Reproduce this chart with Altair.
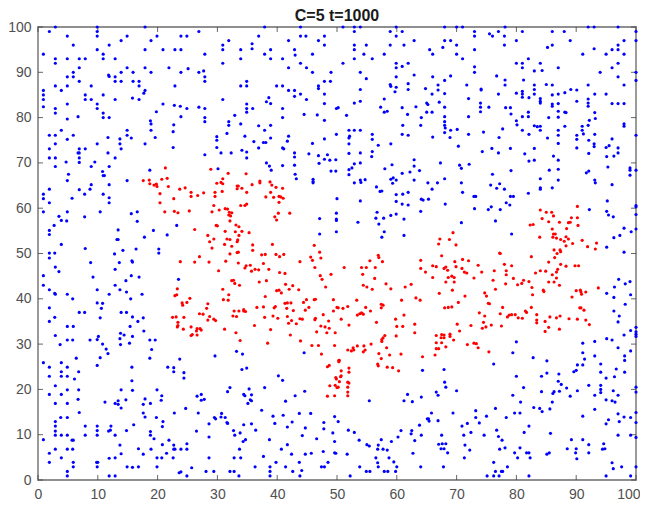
import altair as alt
import pandas as pd

title_text = "C=5 t=1000"
tick_values = [0, 10, 20, 30, 40, 50, 60, 70, 80, 90, 100]

blue_upper_left = [
(2.9,100),(9.9,100),(9.9,99),(9.9,98),(17.9,100),(1.9,99),(4.9,98),(14.9,98),(19.9,98),(23.9,98),(24.9,98),(26.9,99),
(13.9,97),(18.9,97),(5.9,96),(11.9,96),(9.9,95),(17.9,95),(20.9,95),(22.9,95),(23.9,95),(30.9,96),(30.9,95),(31.9,97),
(0.9,94),(10.9,94),(27.9,94),(2.9,93),(2.9,92),(4.9,93),(6.9,93),(7.9,93),(10.9,93),(12.9,93),(33.9,95),(33.9,93),(30.9,92),
(35.8,96.3),(35.8,95.2),(37.9,94),(38.9,95),(38.9,93),(36.9,98),(37.9,100),(41.9,97),(40.9,93),(42.9,95),(43,93.8),(43.9,100),(43.9,98),
(44.8,98),(46.9,97),(47.9,98),(47.9,96),(45.9,94),(43.9,92),(41.9,91),(44.9,91),(45.9,90),(49,90),(6.9,91),(5.9,90),(4.9,89),(5.9,89),
(6.9,88),(2.9,87),(4.9,87),(3.9,86),(8.9,87),(0.9,86),(0.9,85),(0.9,84),(0.9,82.4),(7.9,85),(7.9,84),(8.9,84),(10.9,85),(12.9,84),
(11.8,89.4),(11.9,89.1),(12.9,89),(12.9,88),(13.9,90),(13.9,88),(14.9,91),(15.9,90),(15.9,88),(16.9,88),(16.9,87),(17.9,91),(18.9,90),(17.9,86),(17.7,85.4),
(15.8,84.3),(16.9,84),(21.9,91),(22.9,87),(23.9,90),(25.1,90.8),(26.9,90),(27.7,90.3),(27.9,89),(27.9,88),(33.9,87),(34.9,88),(34.9,87),
(39.9,87),(40.9,87),(41.9,86),(42.9,86),(42.9,84.7),(43.9,85.2),(44.9,84),(46.9,87),(46.9,86.4),(47.9,88),(48.9,88),(47.9,85.2),(47.9,83.1),
(30.9,84),(38.6,84.4),(38.2,83.5),(38.9,83.1),(4.9,83),(9.9,83),(9.9,82),(2.9,82),(2.9,81),(10.9,81),(10.9,80),(11.9,80),(6.7,80.2),(4.9,79.7),
(20.9,83),(22.8,82.7),(23.8,82.5),(24.9,82),(26.9,82.3),(27.9,82),(19.8,81.3),(23.9,80.2),(27.9,80),(27.9,79.1),(34.9,83),(34.9,82),(34.9,81.2),(35.9,82),(32.9,80.5),
(40.9,82),(40.9,80),(49.9,82),(44.5,80.7),(46.7,80.6),(47.9,79.4),(18.8,79.3),(18.9,78.6),(22.7,78.4),(31.9,79.1),(31.9,78.3),(33.9,78.6),(36.9,78.2),(38.9,78.3),(37.9,77.2),
(3.9,77.2),(14.9,77.2),(18.9,77.2),(22.6,76.9),(1.9,76.1),(2.9,76.1),(5.9,76.1),(14.9,76.1),(49.9,76.3),(4.9,75.2),(11.7,75.6),(13.7,75.3),(15.6,75.5),(19.6,75.6),
(31.6,76.5),(29.9,75.8),(29.9,75),(34.6,75.9),(38.9,75.5),(41.9,75.9),(47.9,75.3),(2.9,74.2),(9.9,74.2),(13.7,74.2),(17.9,74.2),(36.1,74.7),(37.7,74.5),(38.1,74.5),(41.7,74.8),(45.9,74.3),
(1.9,73.1),(6.9,73.1),(7.9,73.1),(13.9,73.1),(22.6,73.4),(29.9,73.4),(36.9,73.3),(40.9,73.3),(41.1,73.1),(6.7,72.2),(6.9,72.2),(11.7,72.2),(30.6,72.2),(32.3,72.2),(34.1,72.8),(34.9,72.4),(42.9,72.2),
(6.9,71.1),(1.9,71.1),(2.9,71.1),(12.9,71.1),(27.9,71.8),(34.9,71.1),(42.9,71.3),(45.3,72),(46.9,71.6),(48.4,71.8),(47.9,70.8),(48.8,70.6),(49.8,70.7),
(4.7,70.2),(6.9,70.1),(9.5,70.2),(47,69.9),(38.2,70),(2.9,69.2),(8.9,69.2),(11.9,69.2),(38.7,69.3),(40.9,69.4),(42.9,69.5),(10.8,68.1),(18.7,68.4),(30.1,68.7),(39,68.4),(49,68.2),(49.8,68.2),
(5.1,67.5),(10.9,67.2),(11.1,67.2),(43,67.5),(43.2,66.5),(4.9,66.1),(14.9,66.1),(46,66.4),(46,65.9),(46,65.6),(8.9,65.2),(11.9,65.2),(8.7,64.2),(1.9,64.2),(6.9,64.1),
(0.9,63.1),(7.8,63.1),(10.9,63.1),(0.9,62.1),(5.7,62.2),(11.9,62.3),(11.9,61.2),(1.9,61.2),(50,62.1),(0.9,59.2),(4.9,59.2),(10.4,59.2),(15.6,58.8),(16.6,59.2),(49.9,58.9),
(3.5,58.2),(7.8,58.1),(3.9,57.3),(4.8,57.2),(16.6,57.1),(47.1,57.7),(49.9,57.6),(49.9,57.3),(2.7,56.2),(23.2,56.2),(1.9,55.1),(13.4,55.2),(19.3,55.1),(49.9,54.8),
(1.9,54.2),(21.6,54.1),(47.1,54.3),(17.8,53.6),(13.2,53.1),(13.4,53.1),(3.9,52),(7.9,51.1),(20.2,51),(20.2,50.1),(14.2,50.7),(16.4,51),(1.9,50.1),(2.8,50.1),(12.8,49.9),
]

blue_upper_right = [
(51,100),(52.9,100),(53.9,100),(59.9,100),(68,100),(70,100),(71,100),(78.1,100),(92,100),(93,100),(97,100),
(52.9,99),(58.9,99),(60.9,99),(73,99),(77,99),(81,99),(86,99),(88,99),(100,99),(59.9,98),(73,98),(75.5,98.5),(76,98),(78,98),
(62.9,97),(68,97),(69,97),(80,97),(89,97),(98,97),(100,97),(52.9,96),(54.9,96),(58.9,96),(61.2,96),(70,96),(78,96),(86,96),(97,96),
(52.9,95),(65.5,95),(67.7,95.5),(73,95),(85.2,95.5),(93,95.2),(96,95),(97,95),(54.5,94),(57.9,94),(66,94),(70,94),(91.1,94),(95,94),(98,94),
(52.9,93),(55.9,93),(71,93),(82,93),(51,92),(59.9,92),(61.9,92),(80,92),(81,92),(84,92),(97,92),(59.9,91),(60.9,91.3),(73,91.2),(81,91),(87,91),(96,91),
(53.9,90),(73,90),(83,90.3),(84.3,90.4),(94,90),(100,90),(59.9,89),(62.9,89.4),(66,89),(69,89.2),(76.7,89.2),(97,89),
(54.9,88.6),(68,88.2),(78.1,88.3),(81.2,88.3),(100,88.2),(58.9,87.3),(59,86.9),(61.9,87.5),(66.9,87.2),(71.7,87.2),(78.1,87.2),(83,87.2),(85,87.3),(86,87.2),(92,87.2),(98,87.2),
(53.9,86.2),(59.9,86.7),(59.7,85.7),(61.9,86.2),(64.8,86.4),(66.9,86.1),(74.1,86.3),(74.1,86.1),(83,86.2),(89.1,86.2),(90.1,86.1),(88.1,85.5),
(65.9,85.2),(68,85.3),(77,85.2),(80,85.4),(81,85.8),(81,85.2),(83,85.2),(86,85),(87,85.2),(93.1,85.2),(95,85.2),(81,84.5),(82.1,84.4),(84,84.2),(57.9,84.1),(72,84.2),(90.1,83.6),(92,84.1),
(53.9,83.6),(52.9,83.2),(84,83.6),(84,83.2),(87,83.1),(67.1,83.4),(65,83.2),(65.2,82.9),(74,83.2),(86,83),(86,82.5),(92,83.2),(92,82.5),(96,83.1),(97,83.1),(98,83.1),
(57.3,82.3),(60.9,82.2),(63.2,82.4),(68,82.3),(74,82.3),(75.4,82.3),(78.2,82.2),(79,82.2),(50.2,82.2),(87,81.4),(57.9,81.2),(58.4,81.4),(65,81.2),(65.9,81.2),(74,81.3),(82,81.2),(88.1,81.2),(88.3,81.1),(93.1,81.1),(79.1,80.8),
(51.6,80.5),(61.8,80.7),(64.1,80),(68,80.2),(72,80.2),(81,80.2),(82,80.2),(85.4,80),(87,80.1),(93.2,79.8),(68,79.1),(80,79.3),(92.2,79.4),
(61,78.3),(64,78.3),(68,78.3),(80.1,78.4),(83,78.2),(83.5,78),(84,78.1),(88.1,78.1),(91,78.1),(92,78.3),(98,78.6),(98,78.1),
(52,77.2),(52.9,77.2),(53.9,77.2),(68.1,77.7),(69,77.2),(70.1,77.4),(77.7,77.5),(81,77.2),(84,77.2),(87,77.2),(91,77.2),
(55.9,76.3),(60.9,76.3),(61.9,76.1),(68,76.7),(72,76.3),(74.5,76.8),(82.1,76.3),(87,76.1),(90.1,76.1),(91.2,76.4),(93.1,76.3),(100,76.1),
(52.1,75.9),(52,75.5),(66,75.7),(68.9,75.6),(77.1,75.6),(85.2,75.5),(90.1,75.2),(92.1,75),(55.9,75.2),(96,75.3),
(52,74.2),(56.9,73.9),(59,74.2),(87,74.3),(93,74.2),(93,73.6),(70.3,73.7),(75.9,73.2),(79,73.2),(83,73.2),(90.1,73.3),(95.5,73.8),(95,73.4),(97,73.3),
(55.9,72.5),(52,72.1),(53.9,72.2),(74.3,72.5),(77,72.2),(92.1,72.1),(97,72.2),(81.4,72),(55.8,71.4),(62.9,70.7),(86.2,71.5),(95.1,71.4),(96.3,71.5),(83,70.6),(82.1,70.4),(87,70.6),
(53.9,70),(52.9,69.8),(59.2,69.6),(67.3,70),(70.5,69.5),(72.1,69.7),(62.9,69.3),(52.5,68.9),(52,68.5),(58,68.7),(70.8,68.8),(95.3,69.1),(99,68.9),(99,68.4),(100,68.4),(85.5,68.4),(87,68.6),
(79.1,68.3),(63.8,68.3),(62.2,68),(60.9,67.7),(92.1,68.2),(91.7,67.8),(76,67.5),(52,67.4),(99,67.3),(59.4,66.7),(59,66.4),(54.7,66.3),(53.9,66.2),(54,65.7),(52.9,65.6),(59.9,66.2),(62.9,66.2),(68,66.5),(84,66.5),(87,66.2),(93.1,66.2),(93.2,65.6),
(59.3,65.5),(65.2,65.6),(66.8,65.6),(70.8,65.6),(77.2,65.4),(75.7,65.1),(96,65.2),(56.6,64.7),(65.9,64.2),(76.7,64.4),(78,64.2),(84,64.5),(84,64.2),(86,64.5),
(57.2,63.7),(57.5,63.8),(61.9,63.5),(61,63.1),(59.9,63),(71,63.5),(82,63.3),(72.9,62.6),(73.2,62.6),(79,62.6),(79.5,62.6),(64.1,62),(65.3,62),(64.4,61.8),(53.9,61.6),(59.9,61.5),(60.9,60.9),(61.9,60.7),(68.1,60.9),(78.3,61.2),(78.9,60.7),(95.2,61.6),(100,60.6),(100,60.3),
(73,59.9),(75.3,59.7),(75.8,60.3),(77.3,59.7),(92.2,59.7),(64,59.3),(56.7,59.1),(59.9,58.7),(59,58.4),(95.1,59.3),(95.4,58.5),(96.2,58.1),(100,58.6),
(56.5,57.8),(57.8,57.8),(61.2,57.6),(53.5,56.9),(57,56.5),(70.8,56.8),(76.5,57.2),(98,55.6),(100,55.4),(99.2,54.8),(57.9,54.8),(79.2,54.3),(61.2,54),(57.5,53.6),(97.3,54),(96.3,53.5),(95.1,51.4),(98,50.3),
]

blue_lower_left = [
(1.9,49),(8.8,48),(13.6,48),(15.7,48.4),(15.8,48.1),(2.9,47),(12.9,46.5),(3.5,46),(0.9,45.1),(9.2,44.8),(15.6,45.1),(16.9,44.8),(14.7,44),(23.5,44.3),
(0.9,43),(12.9,43),(1.9,42),(9.9,42),(13.7,42),(14.8,41.5),(2.8,41.2),(2.9,41),(4.9,41),(11.9,41),(17.4,41),(5.8,40),(15.5,40),
(9.9,39.1),(10.8,39),(1.9,38),(10.6,37.9),(6.9,37),(7.8,37),(13.9,37),(14.8,37),(2.8,35.9),(10.4,35.8),(15.8,36),(17.6,35.8),(1.9,35),(16.7,35),(4.9,33.9),(5.9,33.9),(15.4,33.9),(17.7,32.9),
(13.8,32.4),(2.9,31.9),(14.4,32),(15.8,31.7),(10.1,31.7),(13.7,31.2),(8.7,30.9),(4.9,30.9),(5.8,30.9),(9.9,31),(18.7,30.9),(19.6,30.9),(10.8,30),(15.3,30.2),(3.7,29.9),(13.8,29.9),(11.4,28.9),(19,28.8),(11.7,27.9),(18.7,26.9),(10.4,27),(6.4,26.9),(23.7,26.7),(29.6,27.4),(33.2,28.4),(34.2,27.8),(44.5,28.1),
(0.9,25.9),(3.9,25.9),(9.9,25.3),(1.9,24.9),(4.9,24.9),(15.7,24.9),(21.7,24.9),(22.7,24.8),(34.9,24.7),(34.1,24.4),(3.9,23.9),(6.8,23.9),(22.7,23.9),(24.4,23.7),(3.9,22.9),(1.9,22.9),(4.9,22.9),(40.2,23),(6.1,22.3),(24.4,22.5),(40.9,22),(15.7,21.9),(2.9,20.8),(37.9,20.4),(32.1,20.4),(35.3,20.1),(4.9,19.9),(6.8,19.9),(13.9,19.9),(15.8,19.8),(19.9,19.9),(31.7,19.5),(44.6,19.6),
(1.9,18.9),(3.9,18.9),(20.7,18.6),(26.6,18.5),(27.3,18.9),(34.4,18.9),(34.6,18.6),(35.7,18.8),(43,18.6),(17.9,17.9),(6.7,17.8),(13.4,17.5),(14.7,17.7),(20.6,17.6),(27.3,17.6),(27.8,17.8),(35.5,17.7),(35.7,17.5),(41.4,17.4),(2.9,16.9),(4.9,16.9),(11.2,17.2),(12.9,16.9),(13.4,16.7),(17.6,16.7),(18.8,16.9),(35.1,16.9),(13.9,15.9),(24.7,15.8),(37.4,15.4),(6.9,14.9),(17.6,14.8),(22.8,14.8),(26.8,14.8),(30.7,14.7),(43.7,14.7),(45.6,14.7),
(3.8,13.8),(4.9,13.8),(17.9,13.9),(19.8,13.8),(29.5,13.8),(29.7,13.5),(30.6,13.9),(31.3,13.8),(39.3,14.1),(41,14.3),(49.6,14),(2.9,12.9),(20.9,12.9),(31.6,12.7),(31.7,12.5),(42.5,12.8),(47.8,12.7),(50.2,12.9),(2.9,11.9),(7.9,11.9),(9.9,11.9),(12.2,11.9),(16,12.2),(20.8,11.8),(28.6,12.4),(34.4,12.2),(35.7,12.4),(39.6,12.5),(41.7,11.7),(44.7,11.5),(47.8,11.3),
(2.9,10.8),(9.9,10.9),(11.8,10.8),(12.1,11),(14.8,10.9),(26.5,10.8),(32.7,10.9),(36.4,11),(18.8,10.7),(2.9,9.9),(3.9,9.9),(4.9,9.9),(7.9,9.9),(9.9,9.9),(12.9,9.9),(18.8,9.9),(32.9,9.9),(33.8,10.4),(44.2,9.8),(49.3,10.4),
(0.9,8.9),(5.7,8.8),(5.9,8.8),(19.4,9.1),(21.9,8.8),(28.6,9.5),(38.7,8.9),(46.6,9.1),(34.7,8.9),(34.3,8.5),(49.6,8.5),(13.7,7.7),(20.8,7.8),(22.7,7.7),(24.9,8),(41.7,7.8),
(2.9,6.8),(4.9,6.8),(5.8,6.8),(16.8,6.9),(18.9,6.8),(22.9,6.8),(22.7,6.8),(23.9,6.8),(24.9,6.8),(33.7,6.8),(40.7,6.8),(1.9,5.9),(13.9,5.8),(17.6,5.7),(21.5,5.9),(42.4,5.7),(44.7,5.7),(45.7,5.9),(47.7,6.3),(49.6,6),(49.8,5.9),
(3.9,4.9),(11.9,4.8),(12.9,4.9),(19.9,4.9),(20.7,4.9),(22.6,4.9),(28.6,4.9),(32.8,4.9),(33.9,4.9),(37.7,5.2),(1.9,3.9),(5.9,3.9),(9.8,3.9),(10,3.9),(39.8,3.9),(43.7,3.9),(48.5,3.9),
(5.9,2.9),(9.9,2.9),(14.9,2.9),(15.8,2.8),(16.8,2.9),(19.9,2.9),(25.7,2.7),(36.3,2.9),(38.8,2.9),(41.4,2.9),(47.4,2.9),(47.9,2.9),(4.9,1.9),(23.6,1.6),(23.9,1.8),(28.1,1.9),(29.4,1.9),(32.1,1.9),(32.8,1.9),(38.8,1.9),(42.6,1.9),(44.1,2.1),
(4.9,0.9),(11.9,0.9),(12.9,0.9),(24.9,0.9),(33.6,0.9),(38.8,0.9),(43.8,0.9),
]

blue_lower_right = [
(95.1,41.2),(96.4,42.6),(97.1,44.3),(98.2,43.3),(99,43.8),(99.1,40.9),(96.3,40.3),(98.2,38.8),(96.3,37.3),(97.2,36.2),(97,34.9),(100,33.7),(100,32.7),(100,32.2),(100,31.7),(99.1,33),(98,32),(95.1,31.2),(96,30.9),(93.1,30.6),(91.1,30.2),(80,30.5),(79.4,28.1),(91.1,28.1),(97,29.2),(99.1,28.5),(98.1,27.4),(98.1,26.4),(93.1,27.4),(91.4,26.7),(82.8,27),(85.1,26.3),(76.2,25.6),(64.3,24.2),(67.9,24.4),(91.1,25.4),(90.2,25.4),(94.1,25.6),(96.7,24.5),(90,24.2),(89.6,23.9),(94.1,23.8),(98.1,23.8),(85.1,23.6),(87.1,23.4),(84.2,22.9),(80,22.9),(95,22.5),(96.4,22.8),
(68,21.6),(87,21.8),(87.5,21.1),(94.1,20.9),(92.1,20.9),(68.2,20.5),(81.2,20.4),(88.4,20.3),(100,20.5),(94.1,20),(94.1,19.3),(90.2,19.7),(87.2,19.6),(70,19.7),(66.6,19.4),(66.9,18.7),(86.3,19.5),(86.1,19.1),(84.2,19.5),(96.2,19.7),(93.1,18.7),(97,18.7),(100,19.4),(89,18.5),(79.4,18.7),(61.8,18.9),(64.1,18.3),(61.2,17.5),(62.6,17.3),(55.4,17.5),(80.7,17.2),(86,17.2),(95,17.7),(96,17.5),(96.5,17.2),
(82.9,16),(83.9,15.8),(84.3,15.1),(85.6,15.7),(76.5,15.8),(73.2,15.3),(93.1,15.6),(69.4,14.8),(65.8,14.8),(79.7,14.8),(80.6,14.8),(91.1,14.1),(97,14.6),(98,13.9),(99.1,13.8),(100,14.9),(73.2,13.8),(75,14.1),(78.3,13.8),(65.1,13.5),(65.3,13.5),(65.4,13),(66.9,13.1),(73.8,12.6),(71.8,12.5),(63.8,12.1),(70.9,11.9),(82.1,11.9),(95.4,13.3),(95,12.4),(100,12.7),(97.2,12.9),
(51.9,11),(52.9,10.5),(60.7,10.9),(62.5,10.9),(62.4,10.2),(64.1,9.9),(60.2,9.5),(71.2,9.9),(72.4,10.5),(74.6,9.9),(76.7,11),(77,9.6),(77.6,8.8),(67.5,9.9),(81.3,10.5),(85.7,10.3),(97,9.9),(99.1,9.9),(100,9.4),
(53.7,8.8),(57.4,8.9),(59.1,8.5),(63,8.7),(89.2,8.9),(91.1,8.9),(55,7.8),(55.4,7.5),(56.9,7.7),(67,7.9),(67.6,8),(68.2,8),(71.4,7.7),(92.1,7.8),(94.6,8),(56.8,6.8),(57.7,6.8),(58.4,6.6),(67.4,6.9),(67.9,6.9),(77.2,6.8),(78.1,7.1),(80.6,7.1),(88.5,6.9),(90,6.9),(94.4,6.8),(94.8,6.9),(72.2,6.6),
(68.5,6),(62.7,5.9),(79.7,6),(81.7,6),(82.1,6),(85.1,5.7),(85.5,6),(89.9,6),(92.1,6),(51.7,5.7),(56.5,4.9),(58.7,4.9),(71.3,4.9),(80.2,4.9),(82.3,4.9),(90.1,4.7),(56.8,3.8),(59.5,4),(76.2,3.9),(96,3.8),
(53.8,2.9),(56.9,2.9),(60,2.9),(64,2.9),(67.8,2.9),(78.5,2.9),(97.6,2.9),(100,2.9),(96.2,2.5),(54.9,1.9),(55.5,1.9),(57.9,1.9),(58.5,1.9),(59.8,1.9),(76.5,1.9),(77.5,1.9),(77.7,1.9),
(52.2,0.9),(75.1,0.9),(76.2,0.9),(77.1,0.9),(82.1,0.9),(95,0.9),(99.1,0.9),
]

red_upper_left = [
(17.6,66.1),(18.6,66.2),(18.7,65.4),(19.4,65.1),(19.8,65.3),(19.9,64.8),(20.7,66.4),(21.3,68.9),(21.6,66.6),(21.8,64.8),(23.7,64.2),(24.6,64.5),(20.4,63.2),(22.7,62.1),(25.6,63.5),(25.6,62.6),(26.7,62.8),(27.7,63.4),(20.4,61.2),(21.2,59.2),(22.8,59.3),(23.4,59),(25.3,59.4),
(28.9,68.6),(31.8,67.7),(34.8,67.6),(30.9,66.5),(29.9,65.5),(30.6,65.7),(30.9,65.4),(33.3,64.9),(33.5,64.9),(33.3,64.3),(34.1,64.4),(35.8,65.2),(37.1,66),(37.1,65.6),(38.8,65.8),(39.1,65.1),(39.8,64.6),(40.9,64.4),
(29.6,63.5),(30.8,63.7),(34.9,63.5),(29.6,62.6),(38.9,63.5),(38.1,62.5),(39.4,62.4),(40.3,62.6),(40.6,62.5),(41,62.2),(40.3,61.3),(29.4,60.6),(33.9,60.6),(34.6,60.6),(34.9,60.9),(31.3,59.9),(31.7,59.8),(30.3,59.6),(29.1,59.2),(32,59.1),(32.4,59),(31.9,58.5),(32.2,58.3),(40.2,58.9),(42.1,58.9),(39.6,58.1),(39.9,57.4),(32.1,57.2),
(29.8,56.2),(30,56.1),(33.1,56.3),(33.6,55.9),(26.2,55.3),(31.3,54.9),(33,54.8),(34.1,54.9),(35.3,54.6),(33.6,54),(28.4,54),(29.4,53.2),(28.7,52.6),(31.6,53.2),(32.1,53.1),(33.4,53),(33.3,52.6),(29.1,51.2),(31.2,52),(32.4,51.6),(35.9,51.9),(39.2,52),(46.2,51.8),(35.9,50.7),(33.3,50.2),(33.5,50.3),(47.1,50.3),
]

red_upper_right = [
(84,59.6),(85,59.1),(85.9,59.1),(90.2,60.4),(84.3,57.7),(85.4,57),(86.2,58.3),(87.2,56.9),(89.2,57.9),(90.2,57.9),(88.7,56.8),(89,56.9),(90.3,56.2),(82.3,56.3),(82.8,56.4),(88.4,55.5),(86,55.4),(86.2,54.3),(86.5,54.3),(86.1,53.6),(86.7,53.4),(83.9,53.6),(87.4,53.1),(88.3,53.7),(88.7,53.2),(88,52.7),(88.3,51.7),(89.4,52.2),(91,52.9),(93.4,52.3),(91.9,51.5),(93.2,51),(86.3,50.8),(87.3,50.8),(67.2,53.2),(68.8,53.1),(69.4,54.6),(67,52.1),(69.9,51.9),(77.2,50.1),
]

red_lower_left = [
(32.1,49.9),(37.4,49.7),(38,49.8),(39.8,49.8),(40.4,49.3),(41.1,49.8),(27,49.3),(45.6,49.2),(47.3,49),
(23.8,48.2),(26.2,48.1),(28.6,48.1),(30.2,46.2),(31.4,48.3),(33.5,47.9),(34.6,46.8),(34.8,47.3),(35.5,47.4),(35.7,46.1),(36.3,46.5),(36.9,46.4),(37.7,47.8),(38.6,46.5),(37,43.7),(38.2,44),(40.4,45.8),(41.3,45.6),(43.8,48.2),(45.9,48.5),(46.3,46.9),(47.2,45.1),(47.5,44.3),(49,45.4),(48.1,42.6),
(32.4,44),(32.7,44.1),(32.9,43.4),(33.7,43),(30.9,42.1),(31.9,40.9),(31,39.8),(31.8,39.7),(41.4,43.2),(42.6,42.9),(42,42.1),(39.9,41.8),(40.3,41.9),(40.7,41.3),(43.6,42),
(23.3,42.2),(23.2,40.9),(22.9,40.7),(25.4,40.1),(24.1,39.1),(24.2,38.6),(24.9,39.2),(28.4,38.9),(28.2,37.9),(38,40.5),(41.3,39),(41.7,39.1),(42.3,39.1),(44.4,39.2),(44.9,39.8),(46.2,39.8),(46.4,39.9),(49.4,39.8),(39.7,38.3),(39.5,38),(36.6,38.1),(37.7,38.2),(41.6,37.9),(42.7,37.4),(50,38.1),(45.3,38.1),(44.7,37.5),(49.4,37.3),
(32.8,37.3),(33.6,37.3),(34.4,37.3),(34.4,37.6),(34.7,37.2),(27,36.7),(27.6,36.6),(32.6,36.2),(33.2,36.1),(39.3,36.2),(37.9,35.9),(40.1,35.7),(41.7,36.1),(42.4,35.2),(43.8,35.6),(44.2,35.5),(46.4,35.7),(46.3,35.4),(47.7,36.5),(48.6,35.1),
(22.5,35.9),(23.1,36),(24.4,35.9),(28.7,36.1),(28.4,35.3),(29.4,35.5),(29.7,35.2),(23.4,34.8),(23.4,34.1),(23.3,33.8),(24.3,33.3),(25.6,33.8),(26.6,33.4),(27.1,33.4),(27.3,33.1),(26.5,32.9),(31.2,33.3),(36.2,34.1),(43.2,34.5),(41.9,34.6),(38.9,33.2),(47.3,34),(48,33.8),(48.7,33.5),(33.1,32.5),(46.6,32.7),(48.3,32.5),(49.7,32.5),(42.2,32),(26.6,32),(25.8,32.1),(25.6,31.9),
(33.8,30.8),(43.9,30.7),(38.4,30.2),(45.8,29.7),(46.9,29.7),(49.6,29.7),(47.4,27.8),(50.3,26.4),(48.7,25.3),(48.4,25),(49.8,22.6),(49.7,20.9),(48.8,20.8),(50,20.4),(48.4,18.5),(49.6,18.6),
]

red_lower_right = [
(51.2,46.9),(54.1,46.9),(54.9,46.9),(55.5,48.4),(56.9,49.6),(57,49.1),(57.6,48.2),(56.4,46.9),(54.3,45.4),(56.3,44.5),(54.4,43),(55,42.6),(55.9,42.1),(58.2,43.3),(59,42.2),(61.4,42.6),(62.4,43.2),(64,48.5),(64,46.7),(64.8,45.9),(66,47.3),(66.6,47.1),(67.5,49.5),(67.9,46.7),(68.2,47),(68.5,46.3),(66,44.7),(68.2,43.7),(68.6,44.7),(69.2,45),(69.6,44.7),(69.6,43.7),(69.7,48.2),(69.9,47.1),(71,48.7),(72,48.4),(70.9,46.7),(71.3,45.9),(71.7,45.7),(73.6,47.4),(74.2,45.9),(72.9,44.6),
(77.3,50),(78,47.6),(79.2,47.3),(76.3,46.2),(78.3,46.2),(78.3,45.3),(82.5,49.3),(85.4,48.1),(86.4,49.1),(86.8,50),(87.4,50.4),(87.4,47.6),(88.3,47.2),(89.8,47.3),(90.4,47.3),(86.9,46.5),(86.7,45.9),(86,45.3),(84.9,46.1),(84,46.2),(83.2,45.7),(76.1,44.1),(79.5,44.5),(80.2,43.1),(80.9,43.4),(81.2,44.1),(82.1,43.8),(78.2,43.3),(76.5,42.1),(82.6,42.5),(85.4,43.7),(86.3,43.7),(87.2,43),(86.7,44.6),(84.5,41.9),(84.6,41.6),(82.7,40.9),(93.7,42.4),(90,41.8),(90.7,41.9),(90.8,41.5),(90.9,41),(91.6,41.5),(89.3,40.4),
(69.3,41.9),(67.1,41.2),(71.4,40.6),(74.7,41.3),(75,40.6),(63.2,40.2),(63.9,39.7),(60.8,39.7),(53.3,39.7),(70.3,39.2),(75.3,39),(75.5,38.9),(77.7,38.1),(82.5,38.1),(69.2,38.2),(68.6,38.1),(68,38),(57.4,38.8),(57.4,38),(57.7,38.6),(54.8,38.1),(51.8,38.3),(50.2,38),(51,37.9),
(90.6,38),(90.8,38),(91.3,37.5),(55.6,37.3),(53.4,36.4),(53.8,36.7),(54.1,36.9),(54.4,36.6),(61.2,36.4),(73.8,36.9),(74.7,36.2),(77.3,36.7),(78.5,36),(78.8,36.4),(79.2,36.5),(79.8,36.5),(80.3,35.8),(81,35.7),(81.5,37.3),(81.7,37),(83.4,36.5),(85.6,36),(86.7,35.8),(87.3,36.2),(88.8,35.6),(90.2,35.5),(91.6,35.3),(50.7,35.5),(59.8,35.5),(84.8,35),(83.4,35.3),(83.4,34.7),(74.5,34.8),(56.6,34.8),(52,34.2),(63,34.4),(60,33.9),(61,33.9),(70.1,34.4),(72.4,34.1),(74.9,33.8),(74.3,33.5),(75.8,34.2),(77.5,34),(85.4,33.7),(87.2,33.3),(84.8,32.8),(92.2,34.3),(70.5,32.9),(63,32.5),
(59.9,31.8),(58,31.9),(57.7,31.4),(57.5,31),(57.5,30.6),(55.7,30),(66.6,31.9),(67.5,32.1),(67.9,32),(67.4,31.4),(67.9,31.4),(68.9,32.2),(68.9,31.7),(69.5,30.9),(66.6,30.3),(67.5,30.3),(66.6,29),(67,29),(68.2,29.4),(71.8,29.9),(72.9,30.2),(73.3,30.1),(73.6,29.2),(75.4,28.3),(53.4,29.6),(52.7,29.2),(52.4,28.5),(51.8,28.7),(52.8,28.7),(54.5,29.6),(54.7,28.7),(54.4,28.3),(58.3,29.2),(58.8,27.6),(57,27.9),(57.4,26.8),(60.7,27.8),(66.4,27.6),(64.3,27.2),
(56.8,25.6),(56.9,25.2),(58.4,24.9),(59.3,24.8),(60.3,24.1),(50.4,26.4),(50.3,26.1),(50.7,24.1),(52,24.7),(52,23.8),(50.7,23),(50.6,22.8),(49.9,22.3),(50.4,21.7),(51.8,21.6),(52,21.4),(51.8,20.5),(50.2,20.5),(51.8,19.4),(51.8,18.6),
]


def frame(points, colour):
    return pd.DataFrame({
        "x": [p[0] for p in points],
        "y": [p[1] for p in points],
        "c": colour,
    })


points = pd.concat([
    frame(blue_upper_left + blue_upper_right + blue_lower_left + blue_lower_right, "blue"),
    frame(red_upper_left + red_upper_right + red_lower_left + red_lower_right, "red"),
])

W, H = 598, 453
x_scale = alt.Scale(domain=[0, 100], nice=False, zero=False)
y_scale = alt.Scale(domain=[0, 100], nice=False, zero=False)
FRAME = "#8f8f8f"
TICK_COLOUR = "#404040"
LABEL = "#505050"
TICK = 5

dots = alt.Chart(points).mark_circle(size=10, opacity=1, clip=False).encode(
    x=alt.X("x:Q", scale=x_scale, axis=alt.Axis(
        values=tick_values, title=None, grid=False, ticks=False, domain=False,
        labelFontSize=14, labelColor=LABEL, labelPadding=7, labelFlush=False, labelFont="Liberation Sans",
        labelAlign=alt.expr("datum.value == 100 ? 'right' : 'center'"),
        labelOffset=alt.expr("datum.value == 100 ? 4 : 0"))),
    y=alt.Y("y:Q", scale=y_scale, axis=alt.Axis(
        values=tick_values, title=None, grid=False, ticks=False, domain=False,
        labelFontSize=14, labelColor=LABEL, labelPadding=7, labelFont="Liberation Sans")),
    color=alt.Color("c:N", scale=alt.Scale(domain=["blue", "red"], range=["#0000ff", "#ff0000"]), legend=None),
)

ticks = pd.DataFrame({"t": tick_values})
rule = alt.Chart(ticks).mark_rule(color=TICK_COLOUR, strokeWidth=0.8)
x_bottom = rule.encode(x=alt.X("t:Q", scale=x_scale), y=alt.value(H), y2=alt.value(H - TICK))
x_top = rule.encode(x=alt.X("t:Q", scale=x_scale), y=alt.value(0), y2=alt.value(TICK))
y_left = rule.encode(y=alt.Y("t:Q", scale=y_scale), x=alt.value(0), x2=alt.value(TICK))
y_right = rule.encode(y=alt.Y("t:Q", scale=y_scale), x=alt.value(W), x2=alt.value(W - TICK))

chart = alt.layer(x_bottom, x_top, y_left, y_right, dots).properties(
    width=W,
    height=H,
    title=alt.TitleParams(title_text, fontSize=16, fontWeight="bold", color="#1a1a1a",
                          font="Liberation Sans", anchor="middle", offset=-4),
    autosize=alt.AutoSizeParams(type="none"),
    padding={"left": 30, "top": 19, "right": 4, "bottom": 20},
).configure_view(stroke=FRAME, strokeWidth=1.8)

chart.save("out.html", embed_options={"renderer": "svg", "actions": False})
